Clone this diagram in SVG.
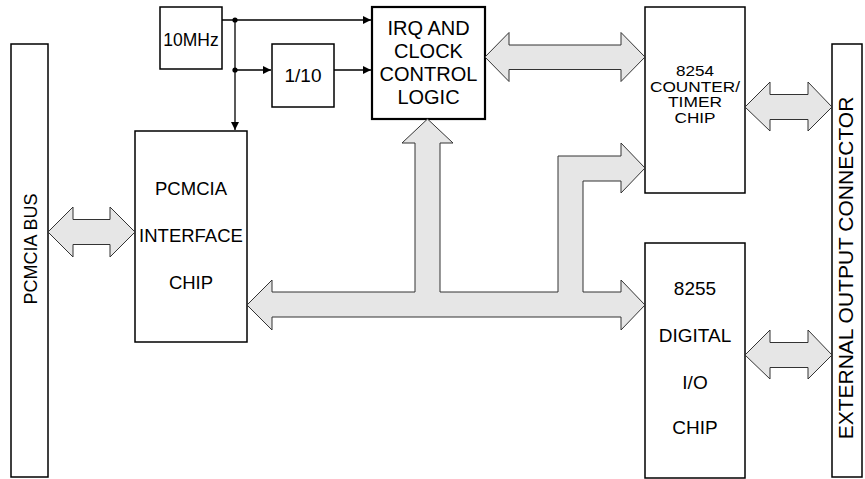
<svg xmlns="http://www.w3.org/2000/svg" width="865" height="479" viewBox="0 0 865 479">
<style>
.box{fill:#fff;stroke:#000;stroke-width:1.5}
.thick{stroke-width:2.2}
.fat{fill:#e6e6e6;stroke:#333;stroke-width:1}
.wire{fill:none;stroke:#000;stroke-width:1.3}
text{font-family:"Liberation Sans",Arial,sans-serif;fill:#000;text-anchor:middle}
.t8254{font-size:15px}
</style>
<defs>
<marker id="ah" viewBox="0 0 10 10" refX="10" refY="5" markerWidth="9" markerHeight="8" markerUnits="userSpaceOnUse" orient="auto">
<path d="M0,0 L10,5 L0,10 Z" fill="#000"/>
</marker>
</defs>
<g id="pcmcia-bus"><rect class="box" x="11" y="44" width="37" height="433"/><text x="37" y="249" font-size="18" transform="rotate(-90 37 249)">PCMCIA BUS</text></g>
<g id="osc"><rect class="box" x="160" y="7" width="62" height="62"/><text x="191" y="46" font-size="17.5">10MHz</text></g>
<g id="div"><rect class="box" x="272" y="44" width="62" height="63"/><text x="303" y="82" font-size="19">1/10</text></g>
<g id="irq"><rect class="box thick" x="372" y="7" width="113" height="112"/><text x="428.5" y="35" font-size="20">IRQ AND</text><text x="428.5" y="58" font-size="20">CLOCK</text><text x="428.5" y="81" font-size="20">CONTROL</text><text x="428.5" y="104" font-size="20">LOGIC</text></g>
<g id="pcmcia-if"><rect class="box" x="135" y="131" width="112" height="211"/><text x="191" y="195" font-size="18.5">PCMCIA</text><text x="191" y="242" font-size="18.5">INTERFACE</text><text x="191" y="289" font-size="18.5">CHIP</text></g>
<g id="c8254"><rect class="box" x="645" y="7" width="100" height="186"/><text class="t8254" x="695" y="76" textLength="38" lengthAdjust="spacingAndGlyphs">8254</text><text class="t8254" x="695" y="91.5" textLength="90" lengthAdjust="spacingAndGlyphs">COUNTER/</text><text class="t8254" x="695" y="107" textLength="54" lengthAdjust="spacingAndGlyphs">TIMER</text><text class="t8254" x="695" y="122.5" textLength="41" lengthAdjust="spacingAndGlyphs">CHIP</text></g>
<g id="c8255"><rect class="box" x="645" y="243" width="100" height="235"/><text x="695" y="295" font-size="19">8255</text><text x="695" y="342" font-size="19">DIGITAL</text><text x="695" y="389" font-size="19">I/O</text><text x="695" y="434" font-size="19">CHIP</text></g>
<g id="ext"><rect class="box" x="832" y="44" width="30" height="433"/><text x="852.5" y="268" font-size="21" transform="rotate(-90 852.5 268)">EXTERNAL OUTPUT CONNECTOR</text></g>
<g id="connectors">
<path class="wire" d="M222,20 H371" marker-end="url(#ah)"/>
<path class="wire" d="M235,20 V130" marker-end="url(#ah)"/>
<path class="wire" d="M235,70 H271" marker-end="url(#ah)"/>
<path class="wire" d="M334,70 H371" marker-end="url(#ah)"/>
<circle cx="235" cy="20" r="2.6" fill="#000"/>
<circle cx="235" cy="70" r="2.6" fill="#000"/>
<path class="fat" d="M48,232 L73,207 L73,219.5 L110,219.5 L110,207 L135,232 L110,257 L110,244.5 L73,244.5 L73,257 Z"/>
<path class="fat" d="M485,57 L509,32.5 L509,45 L621,45 L621,32.5 L645,57 L621,81.5 L621,69.5 L509,69.5 L509,81.5 Z"/>
<path class="fat" d="M745,107 L770,82 L770,94.5 L808,94.5 L808,82 L832,107 L808,131 L808,119.5 L770,119.5 L770,131 Z"/>
<path class="fat" d="M745,355 L770,330 L770,342.5 L808,342.5 L808,330 L832,355 L808,379 L808,367.5 L770,367.5 L770,379 Z"/>
<path class="fat" d="M247,305 L272,280 L272,292 L415,292 L415,143 L402,143 L427.5,119 L453,143 L440,143 L440,292 L558,292 L558,156 L621,156 L621,143 L645,168 L621,193 L621,181 L583,181 L583,292 L621,292 L621,280 L645,305 L621,330 L621,317 L272,317 L272,330 Z"/>
</g>
</svg>
